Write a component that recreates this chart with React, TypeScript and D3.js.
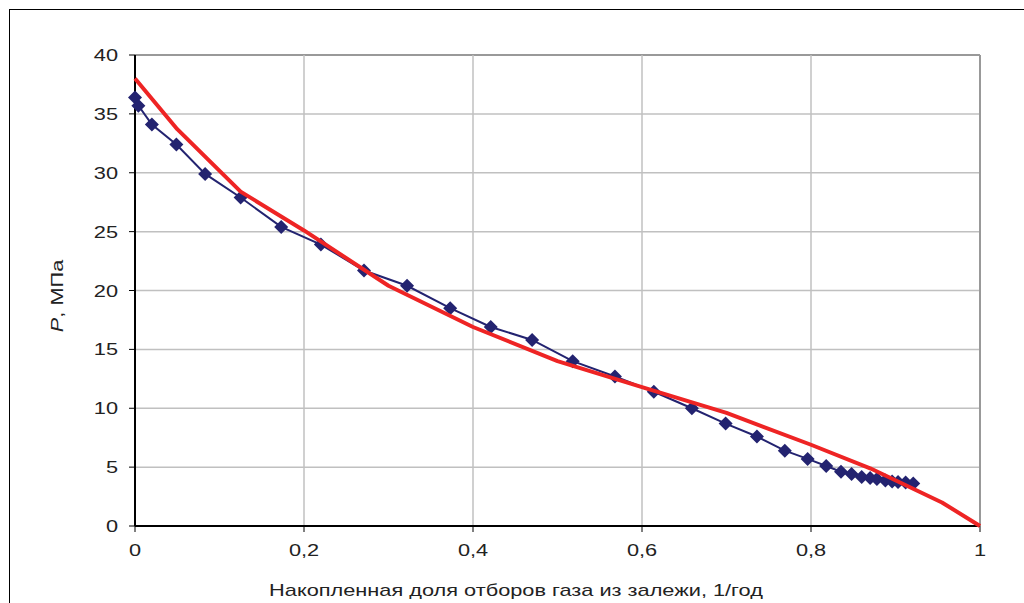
import React from "react";
import * as d3 from "d3";

const measuredX = [0, 0.004, 0.02, 0.049, 0.083, 0.125, 0.173, 0.22, 0.271, 0.322, 0.373, 0.421, 0.47, 0.518, 0.568, 0.614, 0.659, 0.699, 0.736, 0.769, 0.796, 0.818, 0.8355, 0.848, 0.86, 0.87, 0.878, 0.888, 0.896, 0.903, 0.912, 0.921];
const measuredP = [36.4, 35.7, 34.1, 32.4, 29.9, 27.9, 25.4, 23.9, 21.7, 20.4, 18.5, 16.9, 15.8, 14.0, 12.7, 11.4, 10.0, 8.7, 7.6, 6.4, 5.7, 5.1, 4.61, 4.41, 4.17, 4.07, 3.99, 3.86, 3.78, 3.74, 3.69, 3.6];

const modelX = [0, 0.05, 0.125, 0.2, 0.3, 0.4, 0.5, 0.6, 0.7, 0.8, 0.87, 0.955, 1];
const modelP = [38.0, 33.7, 28.4, 25.1, 20.4, 16.9, 14.0, 11.8, 9.6, 6.9, 4.9, 2.0, 0];

const xTicks = [0, 0.2, 0.4, 0.6, 0.8, 1];
const yTicks = [0, 5, 10, 15, 20, 25, 30, 35, 40];

const xTitle = "Накопленная доля отборов газа из залежи, 1/год";

export default function App() {
  const W = 1024, H = 603;
  const left = 135, right = 980, top = 55, bottom = 526;
  const x = d3.scaleLinear().domain([0, 1]).range([left, right]);
  const y = d3.scaleLinear().domain([0, 40]).range([bottom, top]);
  const line = d3.line<[number, number]>().x(d => x(d[0])).y(d => y(d[1]));
  const measured: [number, number][] = measuredX.map((v, i) => [v, measuredP[i]]);
  const model: [number, number][] = modelX.map((v, i) => [v, modelP[i]]);
  const fmt = (v: number) => String(v).replace(".", ",");
  const font = "'Liberation Sans', Arial, sans-serif";
  const r = 7;
  const diamond = `M0,${-r}L${r},0L0,${r}L${-r},0Z`;
  const sx = 1.28;
  const fs = 17;
  const T = (props: { x: number; y: number; anchor: string; children: React.ReactNode; rot?: boolean }) => (
    <text
      transform={`translate(${props.x},${props.y})${props.rot ? " rotate(-90)" : ""} scale(${sx},1)`}
      textAnchor={props.anchor}
      fontSize={fs}
      fill="#222"
    >
      {props.children}
    </text>
  );

  return (
    <svg width={W} height={H} style={{ position: "absolute", left: 0, top: 0 }} fontFamily={font}>
      <rect x={0} y={0} width={W} height={H} fill="#fff" />
      <rect x={9.5} y={9.5} width={W + 10} height={H + 10} fill="none" stroke="#000" strokeWidth={1} />
      {yTicks.filter(t => t > 0).map(t => (
        <line key={"gy" + t} x1={left} x2={right} y1={y(t)} y2={y(t)} stroke={t === 40 ? "#999" : "#c0c0c0"} strokeWidth={t === 40 ? 2 : 1.5} />
      ))}
      {xTicks.filter(t => t > 0).map(t => (
        <line key={"gx" + t} x1={x(t)} x2={x(t)} y1={top} y2={bottom} stroke={t === 1 ? "#999" : "#c0c0c0"} strokeWidth={t === 1 ? 2 : 1.5} />
      ))}
      <line x1={left} x2={left} y1={top} y2={bottom} stroke="#000" strokeWidth={2} />
      <line x1={left} x2={right} y1={bottom} y2={bottom} stroke="#000" strokeWidth={2} />
      {yTicks.map(t => (
        <g key={"ty" + t}>
          <line x1={left - 6} x2={left} y1={y(t)} y2={y(t)} stroke="#000" strokeWidth={1} />
          <T x={left - 17} y={y(t) + 6} anchor="end">{t}</T>
        </g>
      ))}
      {xTicks.map(t => (
        <g key={"tx" + t}>
          <line x1={x(t)} x2={x(t)} y1={bottom} y2={bottom + 6} stroke="#000" strokeWidth={1} />
          <T x={x(t)} y={bottom + 30} anchor="middle">{fmt(t)}</T>
        </g>
      ))}
      <T x={516} y={596} anchor="middle">{xTitle}</T>
      <T x={63} y={296} anchor="middle" rot>
        <tspan fontStyle="italic">P</tspan>, МПа
      </T>
      <path d={line(measured) || ""} fill="none" stroke="#232370" strokeWidth={2} />
      {measured.map((d, i) => (
        <path key={"m" + i} d={diamond} transform={`translate(${x(d[0])},${y(d[1])})`} fill="#232370" />
      ))}
      <path d={line(model) || ""} fill="none" stroke="#ee2424" strokeWidth={4} strokeLinejoin="round" />
    </svg>
  );
}
